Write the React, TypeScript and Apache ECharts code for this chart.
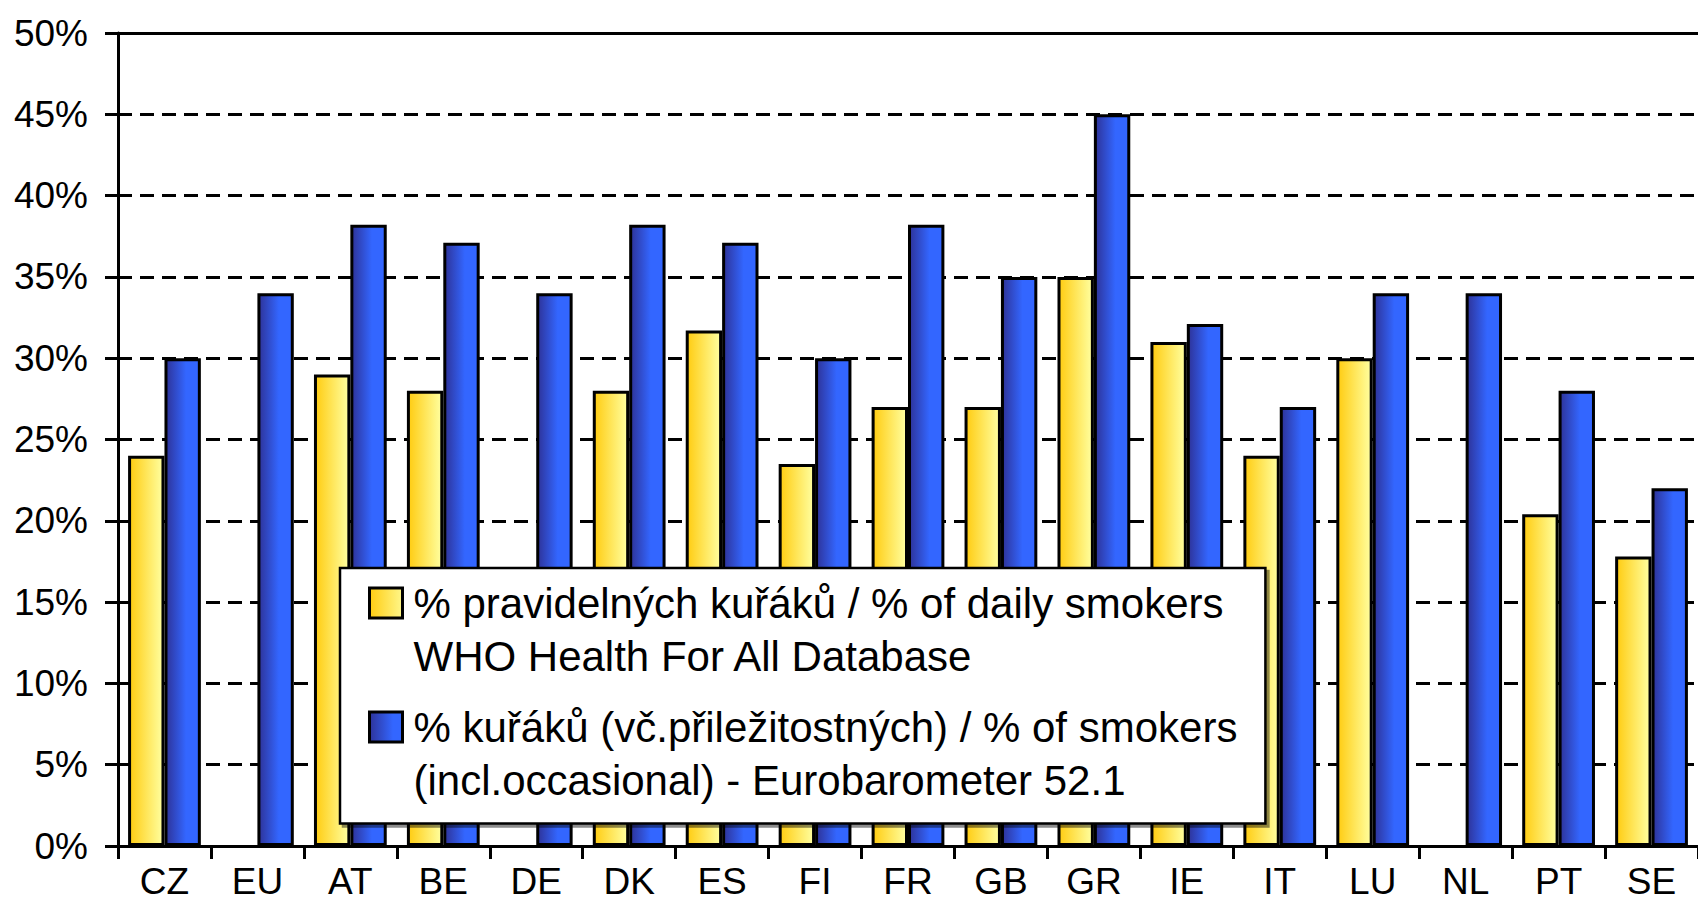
import React, { useEffect, useRef } from "react";
import * as echarts from "echarts";

const categories = ["CZ", "EU", "AT", "BE", "DE", "DK", "ES", "FI", "FR", "GB", "GR", "IE", "IT", "LU", "NL", "PT", "SE"];
const dailySmokers = [24, null, 29, 28, null, 28, 31.7, 23.5, 27, 27, 35, 31, 24, 30, null, 20.4, 17.8];
const allSmokers = [30, 34, 38.2, 37.1, 34, 38.2, 37.1, 30, 38.2, 35, 45, 32.1, 27, 34, 34, 28, 22];
const seriesNames = ["daily", "all"];
const legendLabels: Record<string, string> = {
  daily: "% pravidelných kuřáků / % of daily smokers\nWHO Health For All Database",
  all: "% kuřáků (vč.přiležitostných) / % of smokers\n(incl.occasional) - Eurobarometer 52.1",
};
const yMin = 0;
const yMax = 50;
const yStep = 5;

const FONT = "'Liberation Sans', Arial, sans-serif";

export default function App() {
  const ref = useRef<HTMLDivElement>(null);
  useEffect(() => {
    if (!ref.current) return;
    const chart = echarts.init(ref.current, null, { renderer: "svg" });
    const yellow = new echarts.graphic.LinearGradient(0, 0, 1, 0, [
      { offset: 0, color: "#FFCC11" },
      { offset: 1, color: "#FFFFA0" },
    ]);
    const blue = new echarts.graphic.LinearGradient(0, 0, 1, 0, [
      { offset: 0, color: "#2E3399" },
      { offset: 0.6, color: "#3366FF" },
      { offset: 1, color: "#3366FF" },
    ]);
    chart.setOption({
      animation: false,
      backgroundColor: "#fff",
      grid: { left: 118, right: -4, top: 33, bottom: 57, containLabel: false },
      legend: {
        orient: "vertical",
        left: 340,
        top: 568,
        padding: [8.5, 28, 17, 28],
        itemGap: 18,
        itemWidth: 39,
        itemHeight: 83,
        icon: "path://M0 0L33 0L33 30L0 30Z M39 83L39 83",
        selectedMode: false,
        backgroundColor: "#fff",
        borderColor: "#000",
        borderWidth: 2.5,
        shadowColor: "rgba(0,0,0,0.45)",
        shadowBlur: 0,
        shadowOffsetX: 3,
        shadowOffsetY: 3,
        itemStyle: { borderColor: "#000", borderWidth: 3 },
        data: seriesNames,
        formatter: (name: string) => legendLabels[name],
        textStyle: { fontFamily: FONT, fontSize: 42, lineHeight: 53, color: "#000" },
      },
      xAxis: [
        {
          type: "category",
          data: categories,
          position: "bottom",
          axisLine: { show: true, lineStyle: { color: "#000", width: 3 } },
          axisTick: { show: true, length: 13, interval: 0, lineStyle: { color: "#000", width: 3 } },
          axisLabel: { interval: 0, margin: 17, fontFamily: FONT, fontSize: 37, color: "#000" },
          splitLine: { show: false },
        },
        {
          type: "category",
          data: categories,
          position: "top",
          axisLine: { show: true, lineStyle: { color: "#000", width: 3 } },
          axisTick: { show: false },
          axisLabel: { show: false },
          splitLine: { show: false },
        },
      ],
      yAxis: {
        type: "value",
        min: yMin,
        max: yMax,
        interval: yStep,
        axisLine: { show: true, lineStyle: { color: "#000", width: 3 } },
        axisTick: { show: true, length: 13, lineStyle: { color: "#000", width: 3 } },
        axisLabel: { formatter: "{value}%", margin: 30, fontFamily: FONT, fontSize: 37, color: "#000" },
        splitLine: {
          show: true,
          showMaxLine: false,
          showMinLine: false,
          lineStyle: { color: "#000", width: 3, type: [14, 8] },
        },
      },
      series: [
        {
          name: seriesNames[0],
          type: "bar",
          data: dailySmokers,
          barGap: "0%",
          barCategoryGap: "21.7%",
          itemStyle: { color: yellow, borderColor: "#000", borderWidth: 3 },
        },
        {
          name: seriesNames[1],
          type: "bar",
          data: allSmokers,
          barGap: "0%",
          barCategoryGap: "21.7%",
          itemStyle: { color: blue, borderColor: "#000", borderWidth: 3 },
        },
      ],
    });
    return () => chart.dispose();
  }, []);
  return (
    <div
      ref={ref}
      style={{ position: "fixed", left: 0, top: 0, width: 1698, height: 903, background: "#fff" }}
    />
  );
}
